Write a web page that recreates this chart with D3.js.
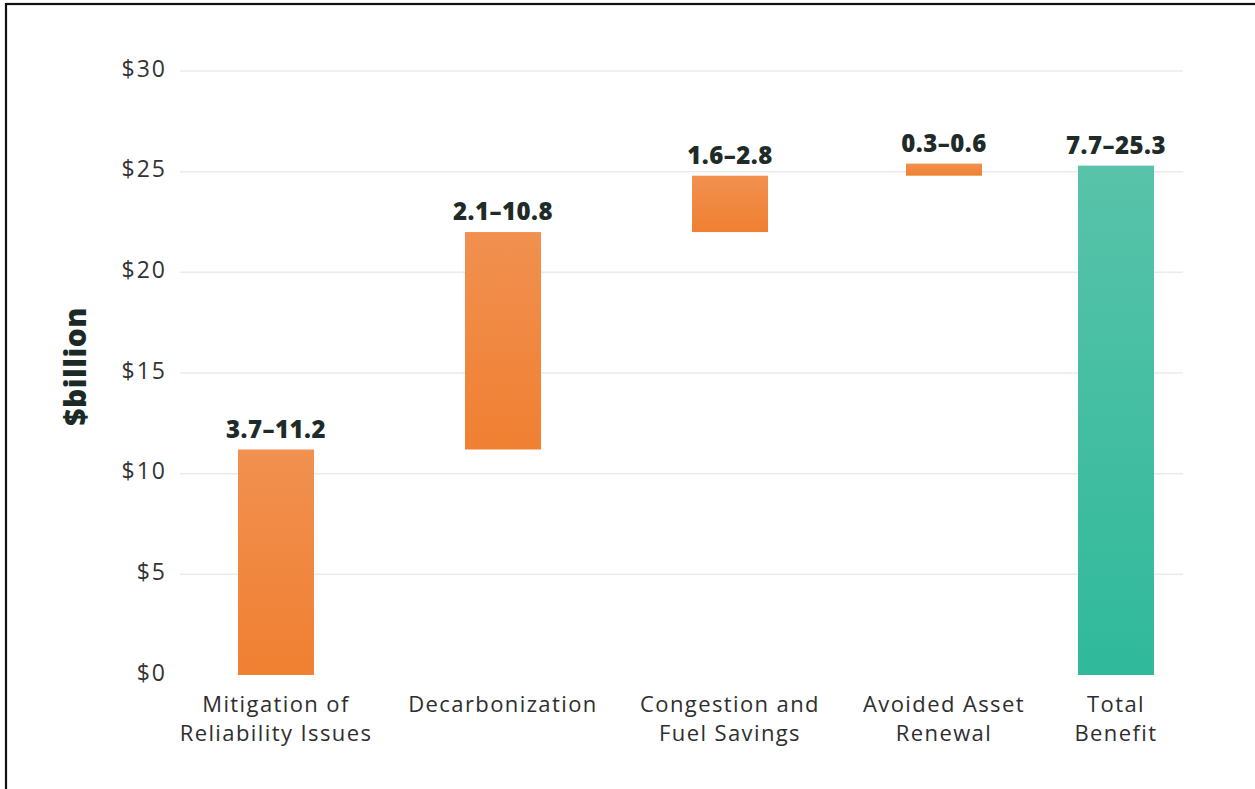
<!DOCTYPE html>
<html>
<head>
<meta charset="utf-8">
<script src="https://cdn.jsdelivr.net/npm/d3@7"></script>
<style>
  html, body { margin: 0; padding: 0; background: #fff; }
  svg { display: block; }
</style>
</head>
<body>
<svg id="chart" width="1255" height="789"></svg>
<script>
// Benefit categories (two-line axis labels)
const categories = [
  "Mitigation of|Reliability Issues",
  "Decarbonization",
  "Congestion and|Fuel Savings",
  "Avoided Asset|Renewal",
  "Total|Benefit"
];
// Upper-bound benefit per category, $billion
const highValues = [11.2, 10.8, 2.8, 0.6, 25.3];
// Range labels shown above each bar
const rangeLabels = ["3.7–11.2", "2.1–10.8", "1.6–2.8", "0.3–0.6", "7.7–25.3"];
// Which bars are the running total
const isTotal = [false, false, false, false, true];
// Y axis ticks
const yTicks = [0, 5, 10, 15, 20, 25, 30];
const yTickLabels = ["$0", "$5", "$10", "$15", "$20", "$25", "$30"];

const svg = d3.select("#chart");
const W = 1255, H = 789;
const FONT = "'Open Sans', sans-serif";

// frame
svg.append("rect")
  .attr("x", 6).attr("y", 4)
  .attr("width", W + 20).attr("height", H + 20)
  .attr("fill", "#fff").attr("stroke", "#111").attr("stroke-width", 2.2);

const plot = { left: 180, right: 1183, top: 71, bottom: 675 };

const y = d3.scaleLinear().domain([0, 30]).range([plot.bottom, plot.top]);

// column centres: columns widen toward the left where labels are longer
const x = d3.scaleOrdinal()
  .domain(categories)
  .range([276, 503, 730, 944, 1116]);
const barW = 76;

// waterfall spans
let running = 0;
const bars = categories.map((c, i) => {
  let lo, hi;
  if (isTotal[i]) { lo = 0; hi = highValues[i]; }
  else { lo = running; hi = running + highValues[i]; running = hi; }
  return { cat: c, lo, hi, label: rangeLabels[i], total: isTotal[i] };
});

// gradients
const defs = svg.append("defs");
const gOr = defs.append("linearGradient").attr("id", "gOrange")
  .attr("x1", 0).attr("y1", 0).attr("x2", 0).attr("y2", 1);
gOr.append("stop").attr("offset", "0%").attr("stop-color", "#f19050");
gOr.append("stop").attr("offset", "100%").attr("stop-color", "#f08032");
const gTe = defs.append("linearGradient").attr("id", "gTeal")
  .attr("x1", 0).attr("y1", 0).attr("x2", 0).attr("y2", 1);
gTe.append("stop").attr("offset", "0%").attr("stop-color", "#58c3a9");
gTe.append("stop").attr("offset", "100%").attr("stop-color", "#30b99b");

// gridlines
svg.append("g").selectAll("line")
  .data(yTicks.filter(t => t > 0))
  .join("line")
  .attr("x1", plot.left).attr("x2", plot.right)
  .attr("y1", d => y(d)).attr("y2", d => y(d))
  .attr("stroke", "#ebebeb").attr("stroke-width", 1.5);

// y axis labels
const yAxis = d3.axisLeft(y)
  .tickValues(yTicks)
  .tickFormat((d, i) => yTickLabels[i])
  .tickSize(0).tickPadding(0);
const yg = svg.append("g").attr("transform", "translate(167,0)").call(yAxis);
yg.select(".domain").remove();
yg.selectAll("text")
  .attr("font-family", FONT)
  .attr("font-size", 23)
  .attr("letter-spacing", 2)
  .attr("fill", "#333")
  .attr("dy", "0.22em");

// y title
svg.append("text")
  .attr("transform", `translate(86,${(308 + 425) / 2}) rotate(-90)`)
  .attr("text-anchor", "middle")
  .attr("font-family", FONT)
  .attr("font-weight", 800)
  .attr("font-size", 30)
  .attr("letter-spacing", 0.5)
  .attr("fill", "#1c2a27")
  .text("$billion");

// bars
svg.append("g").selectAll("rect")
  .data(bars)
  .join("rect")
  .attr("x", d => x(d.cat) - barW / 2)
  .attr("width", barW)
  .attr("y", d => y(d.hi))
  .attr("height", d => y(d.lo) - y(d.hi))
  .attr("fill", d => d.total ? "url(#gTeal)" : "url(#gOrange)");

// range labels
svg.append("g").selectAll("text")
  .data(bars)
  .join("text")
  .attr("x", d => x(d.cat))
  .attr("y", d => y(d.hi) - 12)
  .attr("text-anchor", "middle")
  .attr("font-family", FONT)
  .attr("font-weight", 800)
  .attr("font-size", 24)
  .attr("letter-spacing", 0.5)
  .attr("fill", "#1e2b29")
  .text(d => d.label);

// category labels
const xl = svg.append("g").selectAll("text")
  .data(categories)
  .join("text")
  .attr("x", d => x(d))
  .attr("y", 712)
  .attr("text-anchor", "middle")
  .attr("font-family", FONT)
  .attr("font-size", 22)
  .attr("letter-spacing", 1.4)
  .attr("fill", "#2e2e2e");
xl.selectAll("tspan")
  .data(d => d.split("|"))
  .join("tspan")
  .attr("x", function () { return d3.select(this.parentNode).attr("x"); })
  .attr("dy", (d, i) => i === 0 ? 0 : 29)
  .text(d => d);
</script>
</body>
</html>
